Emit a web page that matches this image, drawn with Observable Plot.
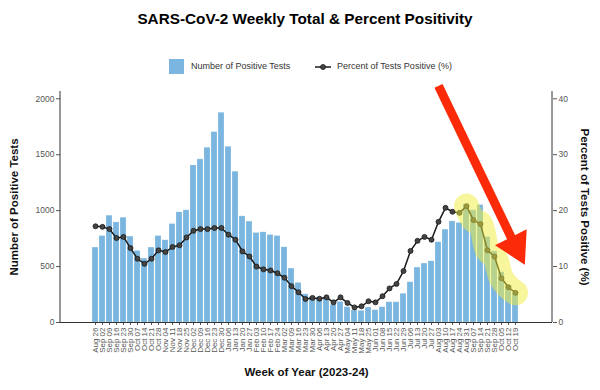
<!DOCTYPE html>
<html>
<head>
<meta charset="utf-8">
<script src="https://cdn.jsdelivr.net/npm/d3@7"></script>
<script src="https://cdn.jsdelivr.net/npm/@observablehq/plot@0.6"></script>
<style>
  body { margin: 0; background: #fff; font-family: "Liberation Sans", Arial, sans-serif; }
  #wrap { position: relative; width: 600px; height: 390px; overflow: hidden; background: #fff; }
  #title { position: absolute; top: 11px; left: 305px; transform: translateX(-50%); white-space: nowrap;
           font-weight: bold; font-size: 15.3px; line-height: 1; color: #000; }
  .lg { position: absolute; top: 59px; height: 15px; line-height: 15px; font-size: 9px; color: #333; white-space: nowrap; }
  #sw { position: absolute; left: 169px; top: 59px; width: 15px; height: 15px; background: #7ab6df; }
  #lsample { position: absolute; left: 315px; top: 61px; }
  #chart { position: absolute; top: 78px; left: 0; }
</style>
</head>
<body>
<div id="wrap">
  <div id="title">SARS-CoV-2 Weekly Total &amp; Percent Positivity</div>
  <div id="sw"></div>
  <div class="lg" style="left:191px">Number of Positive Tests</div>
  <svg id="lsample" width="16" height="12"><line x1="0" x2="16" y1="6" y2="6" stroke="#1a1a1a" stroke-width="1.5"/><circle cx="8" cy="6" r="2.5" fill="#444" stroke="#1a1a1a" stroke-width="0.8"/></svg>
  <div class="lg" style="left:337px">Percent of Tests Positive (%)</div>
  <div id="chart"></div>
</div>
<script>
// ---- data ----
const weeks = ["Aug 26","Sep 02","Sep 09","Sep 16","Sep 23","Sep 30","Oct 07","Oct 14","Oct 21","Oct 28",
  "Nov 04","Nov 11","Nov 18","Nov 25","Dec 02","Dec 09","Dec 16","Dec 23","Dec 30","Jan 06",
  "Jan 13","Jan 20","Jan 27","Feb 03","Feb 10","Feb 17","Feb 24","Mar 02","Mar 09","Mar 16",
  "Mar 23","Mar 30","Apr 06","Apr 13","Apr 20","Apr 27","May 04","May 11","May 18","May 25",
  "Jun 01","Jun 08","Jun 15","Jun 22","Jun 29","Jul 06","Jul 13","Jul 20","Jul 27","Aug 03",
  "Aug 10","Aug 17","Aug 24","Aug 31","Sep 07","Sep 14","Sep 21","Sep 28","Oct 05","Oct 12","Oct 19"];
const positives = [670,773,955,895,937,768,640,571,670,773,
  735,880,985,1003,1404,1458,1562,1702,1875,1571,
  1348,949,902,800,806,782,773,672,482,354,
  252,229,223,214,157,184,137,107,104,134,
  110,137,181,181,257,360,491,527,547,717,
  830,904,890,1056,1003,1050,764,636,450,330,260];
const percentPositive = [17.2,17.1,16.7,15.1,15.3,13.3,11.4,10.5,11.4,12.9,
  12.6,13.5,13.8,15.2,16.4,16.7,16.7,16.9,16.9,15.7,
  14.8,12.7,11.8,10.0,9.5,9.3,8.8,8.0,6.5,5.4,
  4.2,4.4,4.25,4.5,3.6,4.5,3.5,2.7,2.9,3.8,
  3.6,4.7,6.1,6.9,9.2,12.8,14.6,15.3,14.8,18.0,
  20.5,19.8,19.6,20.8,18.3,17.6,12.9,11.8,7.9,6.3,5.3];
const leftTicks = [0, 500, 1000, 1500, 2000];
const rightTicks = [0, 10, 20, 30, 40];
const highlightFrom = "Aug 31";           // highlighted stretch: Aug 31 -> Oct 19
const arrowWeeks = ["Aug 03", "Oct 19"];  // annotation arrow (left-axis units)
const arrowValues = [2115, 680];

// ---- build ----
const K = 2000 / 40; // left-axis units per percent point
const data = weeks.map((w, i) => ({week: w, positives: positives[i], pct: percentPositive[i]}));
const hl = data.slice(weeks.indexOf(highlightFrom));
const arrow = [{w1: arrowWeeks[0], v1: arrowValues[0], w2: arrowWeeks[1], v2: arrowValues[1]}];
const red = "#fb2a08";

function axisLines(index, scales, values, dim) {
  const g = d3.create("svg:g").attr("stroke", "#333").attr("stroke-width", 1);
  const top = dim.marginTop, bot = dim.height - dim.marginBottom;
  g.append("line").attr("x1", dim.marginLeft).attr("x2", dim.marginLeft).attr("y1", top).attr("y2", bot);
  g.append("line").attr("x1", dim.width - dim.marginRight).attr("x2", dim.width - dim.marginRight).attr("y1", top).attr("y2", bot);
  return g.node();
}

const chart = Plot.plot({
  width: 600, height: 312,
  marginTop: 13, marginBottom: 68, marginLeft: 60, marginRight: 48,
  style: {fontFamily: "Liberation Sans, Arial, sans-serif", background: "white", overflow: "visible"},
  x: {type: "band", domain: weeks, range: [81.5, 529.5], paddingInner: 0.14, paddingOuter: 0.07, label: null},
  y: {domain: [0, 2065], label: null},
  marks: [
    Plot.barY(data, {x: "week", y: "positives", fill: "#7ab6df", stroke: "#ffffff", strokeOpacity: 0.35, strokeWidth: 0.6}),
    Plot.axisX({tickRotate: -90, tickSize: 3, tickPadding: 2, fontSize: 8, color: "#555", label: null}),
    Plot.axisY({anchor: "left", ticks: leftTicks, tickFormat: d => String(d), tickSize: 4, tickPadding: 2, fontSize: 8.5, color: "#555", label: null}),
    Plot.axisY({anchor: "right", ticks: rightTicks.map(t => t * K), tickFormat: d => String(d / K), tickSize: 4, tickPadding: 2, fontSize: 8.5, color: "#555", label: null}),
    axisLines,
    Plot.ruleY([0], {stroke: "#333"}),
    Plot.line(data, {x: "week", y: d => d.pct * K, stroke: "#1a1a1a", strokeWidth: 1.5}),
    Plot.dot(data, {x: "week", y: d => d.pct * K, r: 2.5, fill: "#444", stroke: "#1a1a1a", strokeWidth: 0.8}),
    Plot.line(hl, {x: "week", y: d => d.pct * K, stroke: "#f2ee3a", strokeOpacity: 0.5, strokeWidth: 25,
                   strokeLinecap: "round", strokeLinejoin: "round", curve: "catmull-rom"}),
    Plot.link(arrow, {x1: "w1", y1: "v1", x2: "w2", y2: "v2", stroke: red, strokeWidth: 9}),
    Plot.dot(arrow, {x: "w2", y: "v2", symbol: "triangle", r: 13.2, rotate: 153, fill: red, stroke: null}),
    Plot.text(["Number of Positive Tests"], {text: d => d, frameAnchor: "left", dx: -46, rotate: -90, textAnchor: "middle", fontWeight: "bold", fontSize: 11.5, fill: "#111"}),
    Plot.text(["Percent of Tests Positive (%)"], {text: d => d, frameAnchor: "right", dx: 32, rotate: 90, textAnchor: "middle", fontWeight: "bold", fontSize: 11.5, fill: "#111"}),
    Plot.text(["Week of Year (2023-24)"], {text: d => d, frameAnchor: "bottom", dy: 53, textAnchor: "middle", fontWeight: "bold", fontSize: 11.5, fill: "#111"})
  ]
});
document.getElementById("chart").appendChild(chart);
</script>
</body>
</html>
